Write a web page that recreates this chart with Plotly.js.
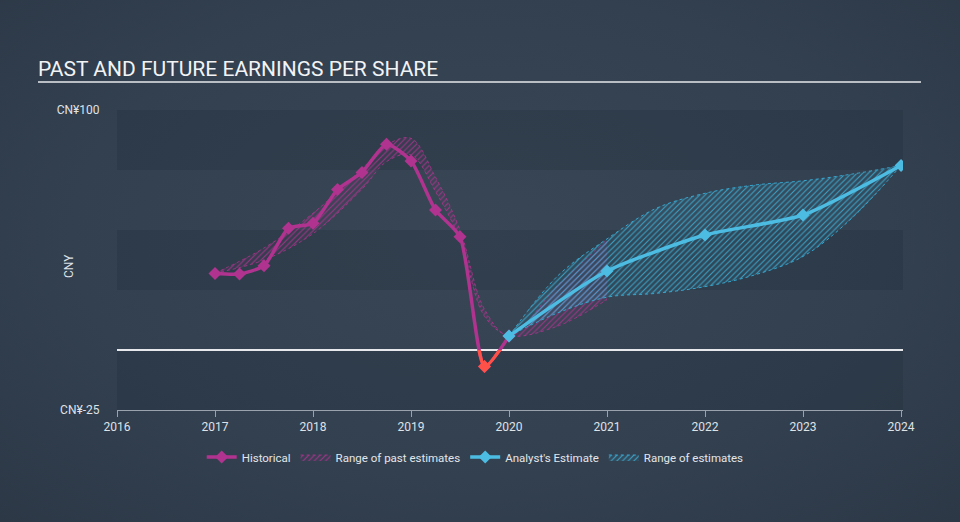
<!DOCTYPE html>
<html>
<head>
<meta charset="utf-8">
<script src="https://cdn.plot.ly/plotly-3.0.1.min.js"></script>
<style>
  html, body { margin: 0; padding: 0; }
  body { width: 960px; height: 522px; background: radial-gradient(ellipse at 50% 45%, #384655 0%, #334050 60%, #2c3846 100%); }
  #plotEps { width: 960px; height: 522px; }
</style>
</head>
<body>
<div id="plotEps"></div>
<script>
// historical EPS (quarterly points)
var histYears = [2017, 2017.25, 2017.5, 2017.75, 2018, 2018.25, 2018.5, 2018.75, 2019, 2019.25, 2019.5, 2019.75, 2020];
var histEps = [31.9, 31.7, 35.1, 50.7, 52.8, 66.9, 74.0, 85.7, 78.8, 58.3, 47.2, -6.9, 5.8];

// range of past estimates
var pastYears = [2017, 2017.5, 2018, 2018.5, 2018.75, 2019, 2019.25, 2019.5, 2019.75, 2020, 2020.5, 2021];
var pastHigh = [32, 42.5, 57, 75.5, 85.4, 88.2, 72, 50, 17, 6, 27, 46];
var pastLow = [32, 37.5, 48.5, 67, 78.5, 81.3, 66, 46, 14, 6, 10, 21];

// analyst estimates
var estYears = [2020, 2021, 2022, 2023, 2024];
var estEps = [5.8, 32.9, 47.9, 56.25, 76.9];

// range of estimates
var rangeYears = [2020, 2020.5, 2021, 2021.5, 2022, 2022.5, 2023, 2023.5, 2024];
var rangeHigh = [5.8, 31, 46.3, 59, 65.3, 68.7, 70.5, 73.3, 76.9];
var rangeLow = [5.8, 15.5, 22, 23.6, 26.4, 31.2, 39, 55, 76.9];

var xTicks = [2016, 2017, 2018, 2019, 2020, 2021, 2022, 2023, 2024];
var yTicks = [100, -25];
var yTickText = ["CN¥100", "CN¥-25"];

var pink = "#b0338f";
var blue = "#4dbce3";
var red = "#ff5147";

var pastLowTrace = {
    x: pastYears, y: pastLow, type: "scatter", mode: "lines",
    line: {color: "rgba(176,51,143,0.8)", width: 1, dash: "dot", shape: "spline", smoothing: 1},
    showlegend: false, hoverinfo: "skip"
};
var pastHighTrace = {
    x: pastYears, y: pastHigh, type: "scatter", mode: "lines",
    name: "Range of past estimates",
    line: {color: "rgba(176,51,143,0.8)", width: 1, dash: "dot", shape: "spline", smoothing: 1},
    fill: "tonexty", fillcolor: "rgba(176,51,143,0.08)",
    fillpattern: {shape: "/", fgcolor: "rgba(176,51,143,0.85)", bgcolor: "rgba(176,51,143,0.06)", size: 4, solidity: 0.25},
    legendrank: 2
};
var rangeLowTrace = {
    x: rangeYears, y: rangeLow, type: "scatter", mode: "lines",
    line: {color: "#35a6cf", width: 1, dash: "dot", shape: "spline", smoothing: 1},
    showlegend: false, hoverinfo: "skip"
};
var rangeHighTrace = {
    x: rangeYears, y: rangeHigh, type: "scatter", mode: "lines",
    name: "Range of estimates",
    line: {color: "#35a6cf", width: 1, dash: "dot", shape: "spline", smoothing: 1},
    fill: "tonexty", fillcolor: "rgba(53,166,207,0.12)",
    fillpattern: {shape: "/", fgcolor: "rgba(60,172,212,0.9)", bgcolor: "rgba(53,166,207,0.1)", size: 4, solidity: 0.25},
    legendrank: 4
};
var histTrace = {
    x: histYears, y: histEps, type: "scatter", mode: "lines+markers",
    name: "Historical",
    line: {color: pink, width: 3.5, shape: "spline", smoothing: 0.6},
    marker: {symbol: "diamond", size: 10, color: pink},
    legendrank: 1
};
// same curve again, clipped to the negative part through its own subplot
var histNegTrace = {
    x: histYears, y: histEps, type: "scatter", mode: "lines+markers",
    xaxis: "x2", yaxis: "y2",
    line: {color: red, width: 3.5, shape: "spline", smoothing: 0.6},
    marker: {symbol: "diamond", size: 10, color: red},
    showlegend: false
};
var estTrace = {
    x: estYears, y: estEps, type: "scatter", mode: "lines+markers",
    name: "Analyst's Estimate",
    line: {color: blue, width: 3.5, shape: "spline", smoothing: 0.6},
    marker: {symbol: "diamond", size: 10, color: blue},
    legendrank: 3
};

var bands = [[100, 75], [50, 25], [0, -25]].map(function (b) {
    return {type: "rect", xref: "paper", yref: "y", x0: 0, x1: 1, y0: b[0], y1: b[1],
        fillcolor: "rgba(20,30,45,0.16)", line: {width: 0}, layer: "below"};
});
bands.push({type: "line", xref: "paper", yref: "paper", x0: (38 - 117) / 786, x1: (921 - 117) / 786,
    y0: 1.093, y1: 1.093, line: {color: "#b9bec5", width: 2}});

var layout = {
    width: 960, height: 522,
    paper_bgcolor: "rgba(0,0,0,0)", plot_bgcolor: "rgba(0,0,0,0)",
    margin: {l: 117, r: 57, t: 110, b: 112},
    font: {family: "Roboto, sans-serif", size: 12, color: "#e3e6ea"},
    title: {text: "PAST AND FUTURE EARNINGS PER SHARE", xref: "container", yref: "container",
        x: 38 / 960, xanchor: "left", y: 1 - 69 / 522, yanchor: "middle",
        font: {family: "Roboto, sans-serif", size: 21, color: "#f2f3f5"}},
    xaxis: {range: [2016, 2024.02], tickvals: xTicks, ticks: "outside", ticklen: 6, tickcolor: "#9aa3ad",
        showline: true, linecolor: "#9aa3ad", linewidth: 1, showgrid: false, zeroline: false,
        tickfont: {size: 12, color: "#dfe2e6"}},
    yaxis: {range: [-25, 100], tickvals: yTicks, ticktext: yTickText, showgrid: false,
        zeroline: true, zerolinecolor: "#e6e8eb", zerolinewidth: 1.2,
        ticks: "outside", ticklen: 14, tickcolor: "rgba(0,0,0,0)",
        tickfont: {size: 12, color: "#dfe2e6"}},
    xaxis2: {range: [2016, 2024.02], anchor: "y2", visible: false, domain: [0, 1]},
    yaxis2: {range: [-25, 0], domain: [0, 0.2], anchor: "x2", visible: false, zeroline: false, showgrid: false},
    shapes: bands,
    annotations: [{text: "CNY", xref: "paper", yref: "paper", x: (60 - 117) / 786, y: 0.48,
        showarrow: false, textangle: -90, font: {size: 12, color: "#dfe2e6"}}],
    showlegend: true,
    legend: {orientation: "h", xref: "container", yref: "container", x: 0.495, xanchor: "center",
        y: 1 - 457 / 522, yanchor: "middle", bgcolor: "rgba(0,0,0,0)",
        font: {size: 11.5, color: "#e3e6ea"}, itemwidth: 30, tracegroupgap: 0, traceorder: "normal"},
    hovermode: false
};

Plotly.newPlot("plotEps",
    [pastLowTrace, pastHighTrace, rangeLowTrace, rangeHighTrace, histTrace, estTrace, histNegTrace],
    layout, {displayModeBar: false, staticPlot: true});
</script>
</body>
</html>
